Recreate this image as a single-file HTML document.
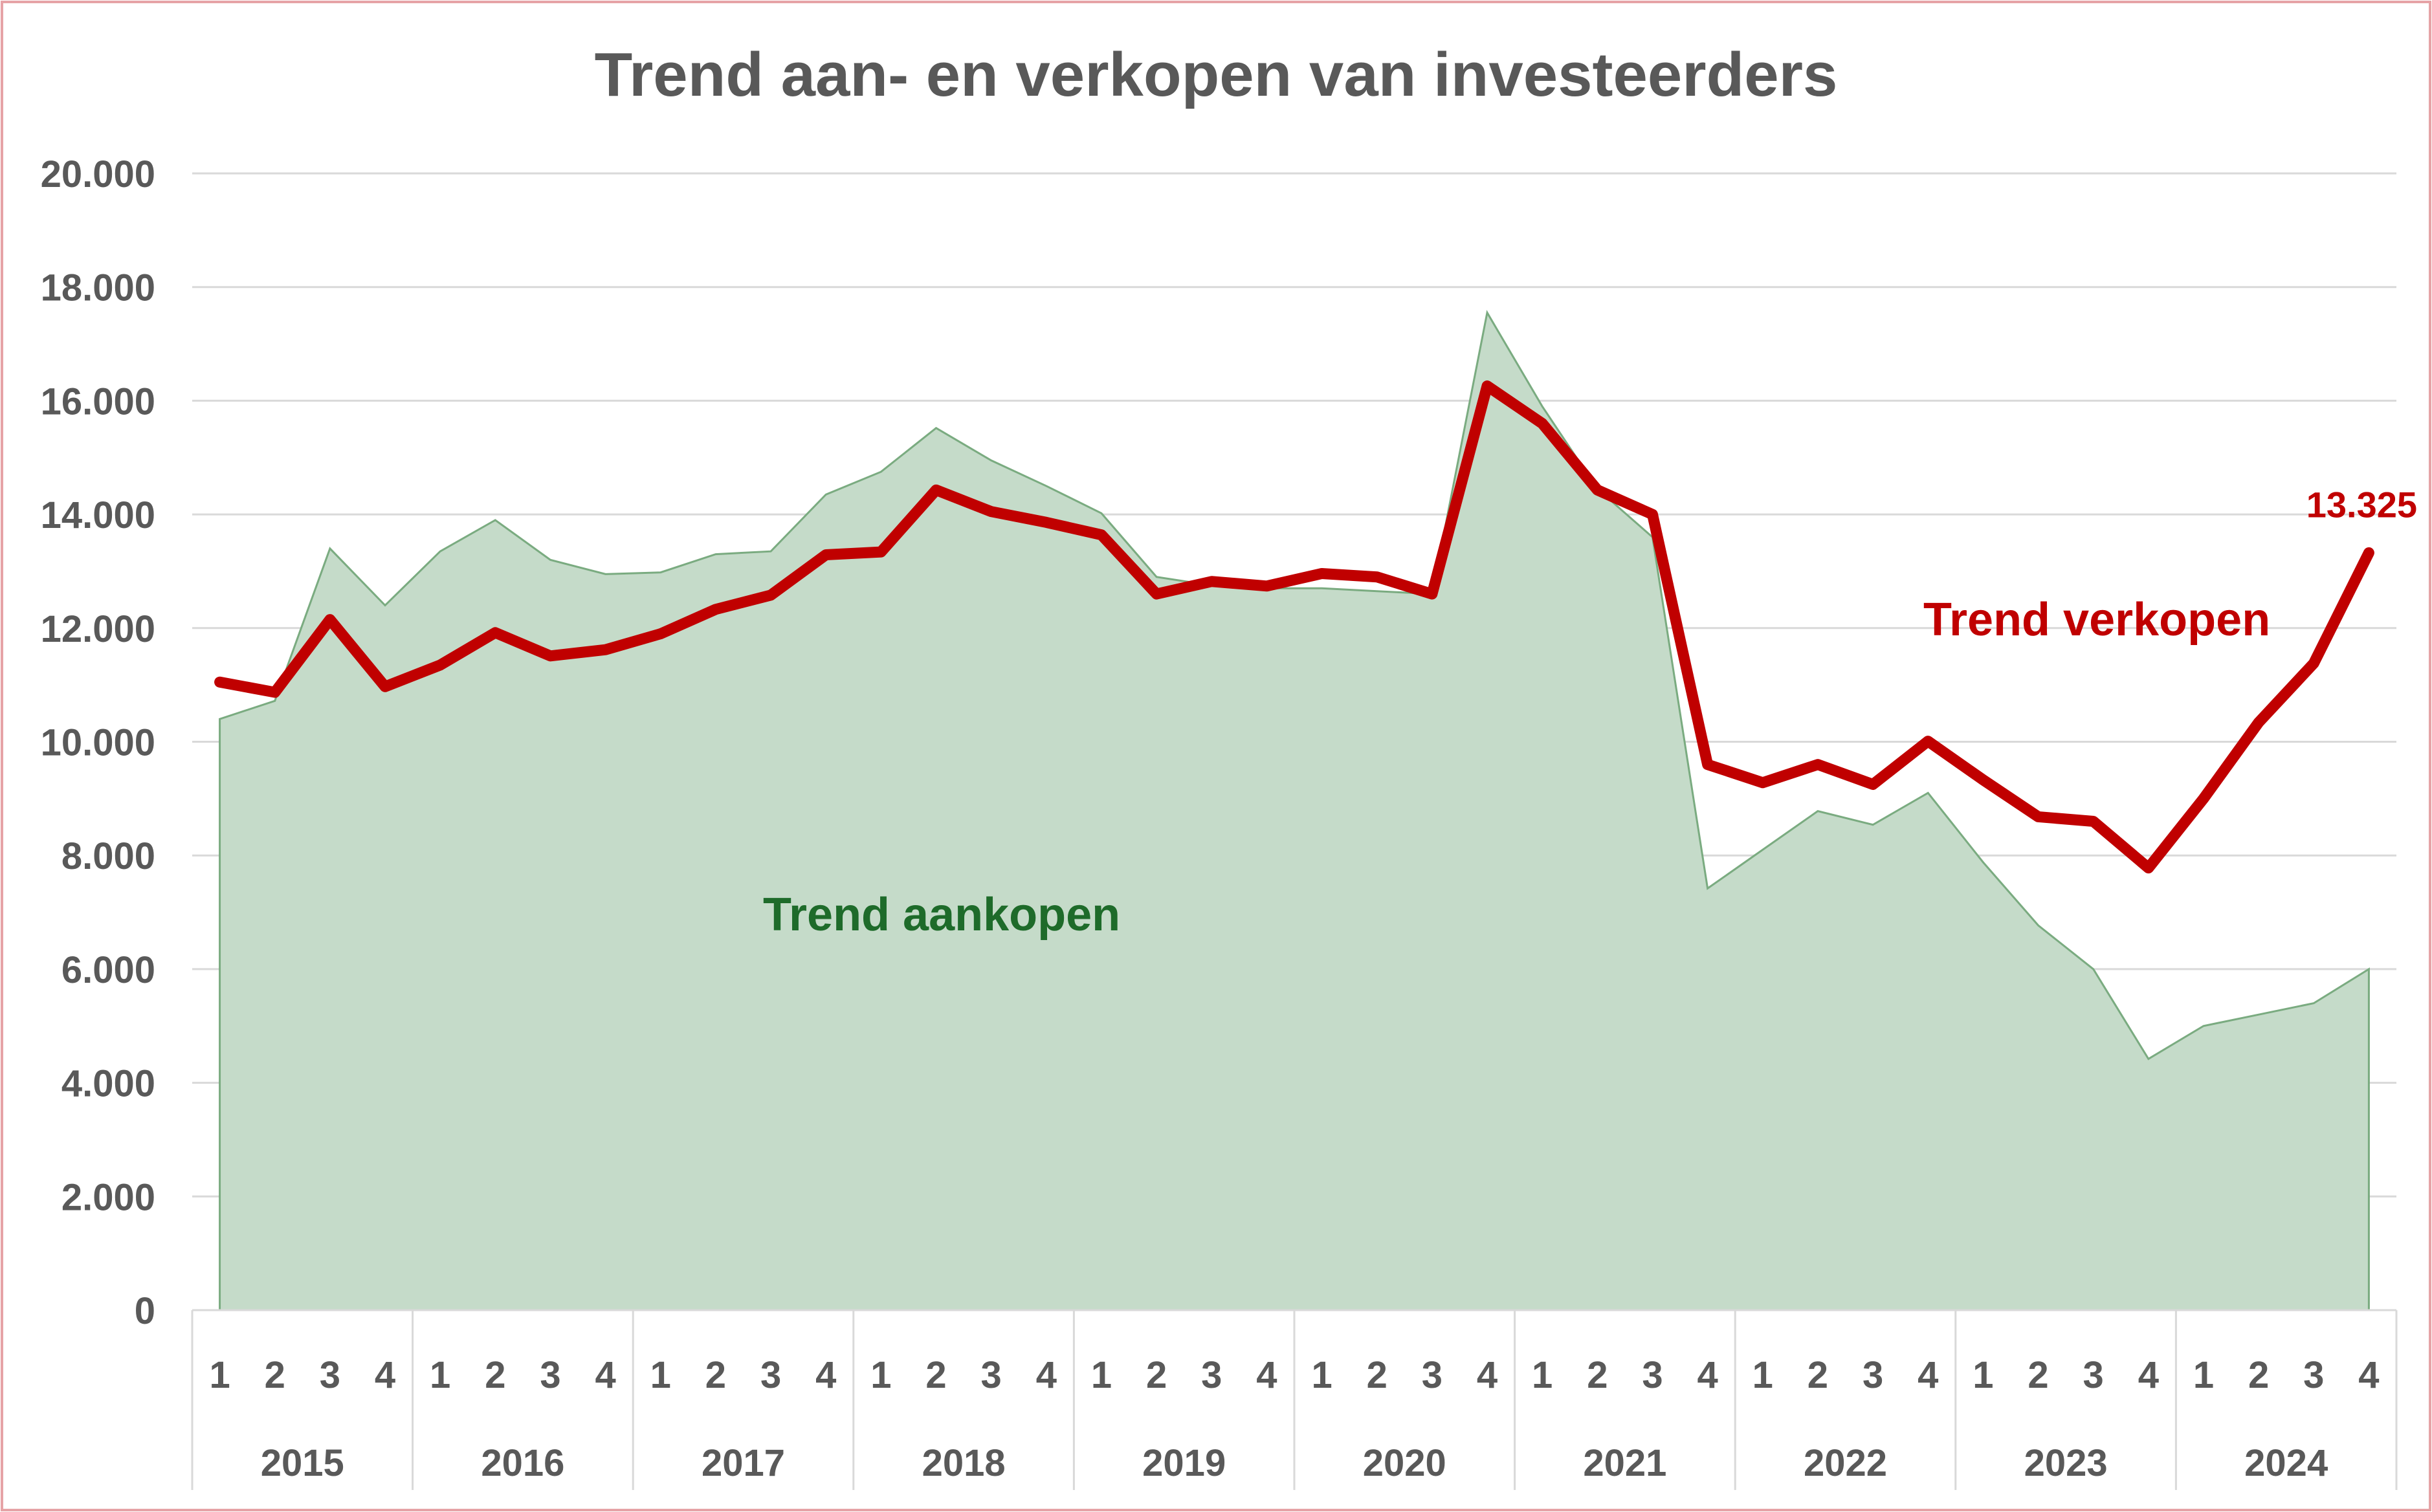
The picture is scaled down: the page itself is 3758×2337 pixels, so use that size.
<!DOCTYPE html>
<html><head><meta charset="utf-8"><style>
html,body{margin:0;padding:0;background:#fff}
svg{display:block}
text{font-family:"Liberation Sans",sans-serif}
</style></head><body>
<svg id="chart" width="3758" height="2337" viewBox="0 0 3758 2337" xmlns="http://www.w3.org/2000/svg">
<rect x="3" y="3" width="3752" height="2331" fill="#fff" stroke="#e6a3a6" stroke-width="4"/>
<text x="1879" y="148" text-anchor="middle" font-size="96" font-weight="bold" fill="#595959">Trend aan- en verkopen van investeerders</text>
<g id="grid"></g>
<g id="area"></g>
<g id="line"></g>
<g id="axis"></g>
<text x="2972" y="982" font-size="72" font-weight="bold" fill="#c00000">Trend verkopen</text>
<text x="1179" y="1438" font-size="72" font-weight="bold" fill="#1e6b2a">Trend aankopen</text>
<text id="lastLabel" text-anchor="end" font-size="56" font-weight="bold" fill="#c00000"></text>
</svg>
<script>
const years = ["2015","2016","2017","2018","2019","2020","2021","2022","2023","2024"];
const quarters = ["1","2","3","4"];
const yTicks = [0,2000,4000,6000,8000,10000,12000,14000,16000,18000,20000];
const aankopen = [10400,10720,13400,12400,13350,13900,13200,12950,12980,13300,13350,14350,14750,15520,14950,14500,14020,12900,12750,12700,12700,12650,12600,17550,15900,14450,13600,7420,8100,8780,8540,9100,7880,6770,6000,4420,5000,5200,5400,6000];
const verkopen = [11050,10870,12150,10970,11350,11920,11510,11620,11900,12330,12580,13290,13340,14430,14050,13860,13640,12600,12820,12740,12960,12900,12600,16260,15600,14430,14000,9600,9280,9600,9250,10010,9330,8680,8600,7780,9000,10340,11380,13325];
const lastLabelText = "13.325";

const NS="http://www.w3.org/2000/svg";
const L=297,R=3703,Y0=2025,Y1=268,YMAX=20000;
const n=aankopen.length;
const step=(R-L)/n;
const x=i=>L+step*(i+0.5);
const y=v=>Y0-(v/YMAX)*(Y0-Y1);
const fmt=v=>v.toLocaleString("de-DE");
function mk(tag,attrs,parent){const e=document.createElementNS(NS,tag);for(const k in attrs)e.setAttribute(k,attrs[k]);parent.appendChild(e);return e;}
const grid=document.getElementById("grid"),axis=document.getElementById("axis");
yTicks.forEach(t=>{
  if(t>0){const g=mk("line",{x1:L,x2:R,y1:y(t),y2:y(t),stroke:"#d9d9d9","stroke-width":3},grid);
  
  }
  const tx=mk("text",{x:240,y:y(t)+21,"text-anchor":"end","font-size":58,"font-weight":"bold",fill:"#595959"},axis);
  tx.textContent=fmt(t);
  
  
});
// area
let d="M"+x(0)+","+Y0;
aankopen.forEach((v,i)=>d+=" L"+x(i)+","+y(v));
d+=" L"+x(n-1)+","+Y0+" Z";
const area=mk("path",{d:d,fill:"#c5dbc9",stroke:"none"},document.getElementById("area"));


let d2="M"+x(0)+","+Y0;
aankopen.forEach((v,i)=>d2+=" L"+x(i)+","+y(v));
d2+=" L"+x(n-1)+","+Y0;
const aline=mk("path",{d:d2,fill:"none",stroke:"#7aab80","stroke-width":3},document.getElementById("area"));


// line
const pts=verkopen.map((v,i)=>x(i)+","+y(v)).join(" ");
const pl=mk("polyline",{points:pts,fill:"none",stroke:"#c00000","stroke-width":17,"stroke-linejoin":"round","stroke-linecap":"round"},document.getElementById("line"));


const ll=document.getElementById("lastLabel");
ll.setAttribute("x",3735);ll.setAttribute("y",y(verkopen[n-1])-55);ll.textContent=lastLabelText;
// category axis
const base=mk("line",{x1:L,x2:R,y1:Y0,y2:Y0,stroke:"#d9d9d9","stroke-width":3},axis);


for(let k=0;k<=years.length;k++){
  const xx=L+step*4*k;
  const s=mk("line",{x1:xx,x2:xx,y1:Y0,y2:2303,stroke:"#d9d9d9","stroke-width":3},axis);
  
  
}
years.forEach((yr,k)=>{
  quarters.forEach((q,j)=>{
    const t=mk("text",{x:x(k*4+j),y:2145,"text-anchor":"middle","font-size":58,"font-weight":"bold",fill:"#595959"},axis);
    t.textContent=q;
    
    
  });
  const t=mk("text",{x:L+step*(4*k+2),y:2281,"text-anchor":"middle","font-size":58,"font-weight":"bold",fill:"#595959"},axis);
  t.textContent=yr;
  
  
});
</script>
</body></html>
